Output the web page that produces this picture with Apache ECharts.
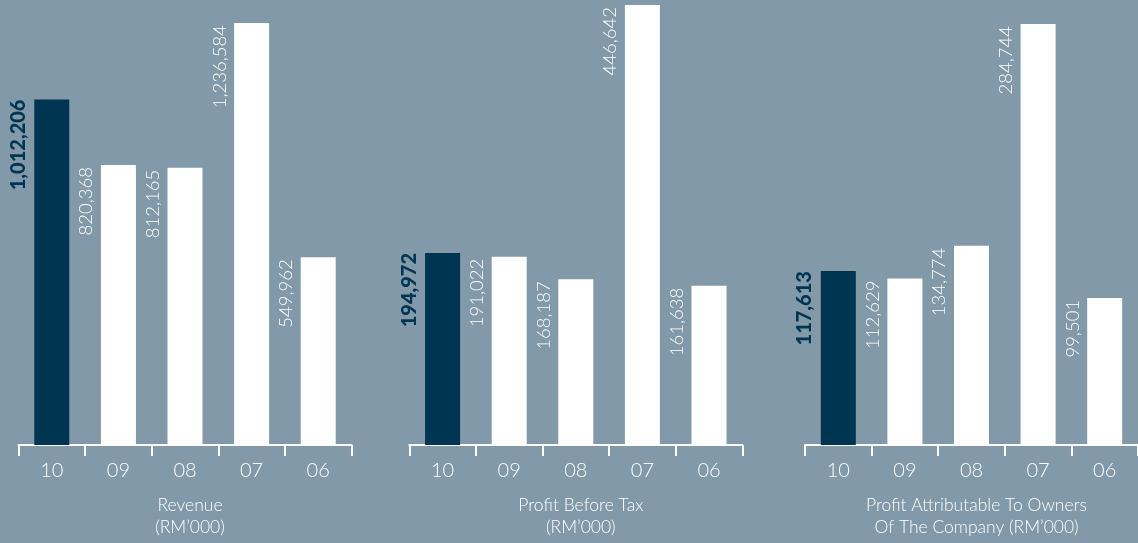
<!DOCTYPE html>
<html>
<head>
<meta charset="utf-8">
<script src="https://cdn.jsdelivr.net/npm/echarts@6/dist/echarts.min.js"></script>
<style>
html,body{margin:0;padding:0;background:#8199a8;}
#c{width:1138px;height:543px;}
</style>
</head>
<body>
<div id="c"></div>
<script>
const categories = ['10', '09', '08', '07', '06'];
const revenue = [1012206, 820368, 812165, 1236584, 549962];
const profitBeforeTax = [194972, 191022, 168187, 446642, 161638];
const profitToOwners = [117613, 112629, 134774, 284744, 99501];
const titles = [
  'Revenue\n(RM\u2019000)',
  'Profit Before Tax\n(RM\u2019000)',
  'Profit Attributable To Owners\nOf The Company (RM\u2019000)'
];

const BG = '#8199a8';
const DARK = '#003552';
const FONT = 'Lato, "Noto Sans", sans-serif';

const panels = [
  { data: revenue, left: 18.5, top: 23 },
  { data: profitBeforeTax, left: 409.3, top: 5 },
  { data: profitToOwners, left: 805, top: 24 }
];
const GW = 333;
const BOTTOM = 98;

function fmt(v) { return String(v).replace(/\B(?=(\d{3})+(?!\d))/g, ','); }

const grid = [], xAxis = [], yAxis = [], series = [], title = [];
panels.forEach((p, i) => {
  grid.push({ left: p.left, top: p.top, width: GW, bottom: BOTTOM, containLabel: false });
  xAxis.push({
    type: 'category', gridIndex: i, data: categories,
    axisLine: { show: true, lineStyle: { color: '#ffffff', width: 2 } },
    axisTick: { show: true, length: 11, lineStyle: { color: '#ffffff', width: 2 } },
    axisLabel: { color: '#ffffff', fontSize: 20, fontWeight: 300, fontFamily: FONT, margin: 16 },
    splitLine: { show: false }
  });
  yAxis.push({ type: 'value', gridIndex: i, min: 0, max: 'dataMax', show: false, splitLine: { show: false } });
  series.push({
    type: 'bar', xAxisIndex: i, yAxisIndex: i, barWidth: 35, silent: true,
    itemStyle: { color: '#ffffff' },
    label: {
      show: true, rotate: 90, position: [-5, 2], align: 'right', verticalAlign: 'bottom',
      color: '#ffffff', fontSize: 18.5, fontWeight: 300, fontFamily: FONT,
      formatter: (d) => fmt(d.value)
    },
    data: p.data.map((v, j) => j === 0 ? {
      value: v,
      itemStyle: { color: DARK },
      label: { color: DARK, fontWeight: 900, fontSize: 20, position: [-6, 0] }
    } : v)
  });
  title.push({
    text: titles[i], left: p.left + GW / 2, top: 490, textAlign: 'center',
    textStyle: { color: '#ffffff', fontSize: 17.5, fontWeight: 300, fontFamily: FONT, lineHeight: 21.5 }
  });
});

const chart = echarts.init(document.getElementById('c'), null, { renderer: 'canvas' });
chart.setOption({
  backgroundColor: BG,
  animation: false,
  title, grid, xAxis, yAxis, series
});
</script>
</body>
</html>
